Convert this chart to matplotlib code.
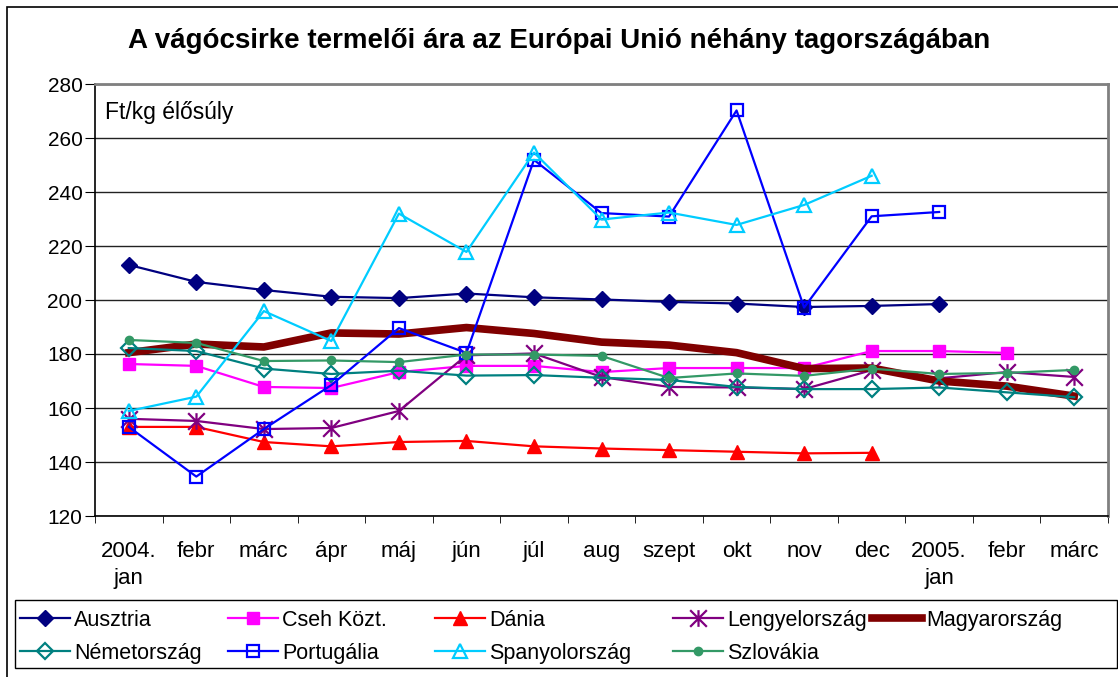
import numpy as np
import matplotlib
matplotlib.use('Agg')
import matplotlib.pyplot as plt
from matplotlib.path import Path
from matplotlib.patches import Rectangle

plt.rcParams['font.family'] = ['Liberation Sans', 'DejaVu Sans']

nan = np.nan
months = ['2004.\njan', 'febr', 'márc', 'ápr', 'máj', 'jún', 'júl', 'aug',
          'szept', 'okt', 'nov', 'dec', '2005.\njan', 'febr', 'márc']

ausztria = [213.0, 206.7, 203.7, 201.2, 200.7, 202.4, 201.0, 200.2, 199.3, 198.7, 197.4, 197.8, 198.5, nan, nan]
cseh = [176.3, 175.6, 167.8, 167.4, 173.3, 175.6, 175.6, 173.3, 174.8, 174.8, 174.8, 181.1, 181.1, 180.4, nan]
dania = [153.0, 153.0, 147.4, 145.8, 147.4, 147.8, 145.8, 145.0, 144.4, 143.8, 143.2, 143.4, nan, nan, nan]
lengyel = [156.0, 155.2, 152.2, 152.6, 158.9, 179.5, 180.2, 171.5, 167.8, 167.6, 167.0, 174.0, 171.0, 173.3, 171.5]
magyar = [180.5, 183.7, 182.6, 187.8, 187.4, 189.8, 187.6, 184.4, 183.3, 180.5, 174.6, 174.8, 170.0, 168.1, 164.4]
nemet = [182.2, 181.1, 174.6, 172.6, 173.8, 172.0, 172.2, 171.2, 170.4, 167.8, 167.0, 167.0, 167.6, 165.8, 164.0]
portugal = [153.0, 134.6, 152.2, 168.5, 189.6, 180.4, 251.9, 232.2, 230.9, 270.2, 197.2, 231.0, 232.6, nan, nan]
spanyol = [158.9, 164.2, 195.9, 184.8, 232.0, 217.8, 254.6, 229.8, 232.4, 227.8, 235.2, 246.0, nan, nan, nan]
szlovak = [185.2, 184.1, 177.4, 177.6, 177.0, 179.8, 179.8, 179.3, 171.1, 172.8, 171.9, 174.6, 172.6, 173.0, 174.1]

# Excel-style "star": an X with a vertical bar
star = Path([(0, -1), (0, 1), (-1, -1), (1, 1), (-1, 1), (1, -1)],
            [Path.MOVETO, Path.LINETO] * 3)

series = [
    ('Ausztria', ausztria, dict(color='#000080', marker='D', ms=8, mfc='#000080')),
    ('Cseh Közt.', cseh, dict(color='#FF00FF', marker='s', ms=9, mfc='#FF00FF')),
    ('Dánia', dania, dict(color='#FF0000', marker='^', ms=10, mfc='#FF0000')),
    ('Lengyelország', lengyel, dict(color='#800080', marker=star, ms=12, mew=1.6)),
    ('Magyarország', magyar, dict(color='#800000', lw=5.5)),
    ('Németország', nemet, dict(color='#008080', marker='D', ms=8, mfc='none', mew=1.6)),
    ('Portugália', portugal, dict(color='#0000FF', marker='s', ms=9, mfc='none', mew=1.6)),
    ('Spanyolország', spanyol, dict(color='#00CCFF', marker='^', ms=10, mfc='none', mew=1.6)),
    ('Szlovákia', szlovak, dict(color='#339966', marker='o', ms=6, mfc='#339966')),
]

fig = plt.figure(figsize=(11.18, 6.77), dpi=100)
ax = fig.add_axes([95 / 1118, 1 - 516 / 677, 1013 / 1118, 432 / 677])

x = np.arange(len(months))
handles = {}
for name, vals, style in series:
    kw = dict(lw=1.6)
    kw.update(style)
    handles[name], = ax.plot(x, vals, label=name, **kw)

ax.set_xlim(-0.5, len(months) - 0.5)
ax.set_ylim(120, 280)
ax.set_yticks(np.arange(120, 281, 20))
ax.tick_params(axis='y', labelsize=15, length=7, pad=2, direction='out')
ax.set_xticks(x)
ax.set_xticklabels(months, fontsize=16, linespacing=1.35)
ax.set_xticks(np.arange(-0.5, len(months), 1), minor=True)
ax.tick_params(axis='x', which='major', length=0, pad=18)
ax.tick_params(axis='x', which='minor', length=5, direction='out')

ax.set_axisbelow(True)
ax.yaxis.grid(True, color='#222222', lw=1)
for side in ['top', 'right']:
    ax.spines[side].set_color('#808080')
    ax.spines[side].set_linewidth(2)
ax.spines['left'].set_linewidth(1.2)
ax.spines['bottom'].set_linewidth(1.2)

ax.text(0.01, 0.935, 'Ft/kg élősúly', transform=ax.transAxes, fontsize=16.5,
        va='center', ha='left')

fig.text(0.5, 1 - 48 / 677,
         'A vágócsirke termelői ára az Európai Unió néhány tagországában',
         fontsize=20, fontweight='bold', ha='center', va='baseline')

# legend: one small legend per column so the columns sit where Excel put them
legend_cols = [['Ausztria', 'Németország'], ['Cseh Közt.', 'Portugália'],
               ['Dánia', 'Spanyolország'], ['Lengyelország', 'Szlovákia'],
               ['Magyarország']]
col_left = [20, 228, 435, 673, 872]
for names, left in zip(legend_cols, col_left):
    fig.legend([handles[n] for n in names], names, loc='upper left',
               bbox_to_anchor=(left / 1118, 1 - 610 / 677),
               fontsize=15.5, frameon=False,
               handlelength=2.3, handletextpad=0.2, labelspacing=0.55,
               borderpad=0, borderaxespad=0)

fig.patches.append(Rectangle((15 / 1118, 1 - 668 / 677), 1102 / 1118, 68 / 677,
                             transform=fig.transFigure, fill=False,
                             edgecolor='black', lw=1))
fig.patches.append(Rectangle((7 / 1118, -0.1), 1.2, 1 - 7 / 677 + 0.1,
                             transform=fig.transFigure, fill=False,
                             edgecolor='black', lw=1.2))

fig.savefig('out.png', dpi=100)
